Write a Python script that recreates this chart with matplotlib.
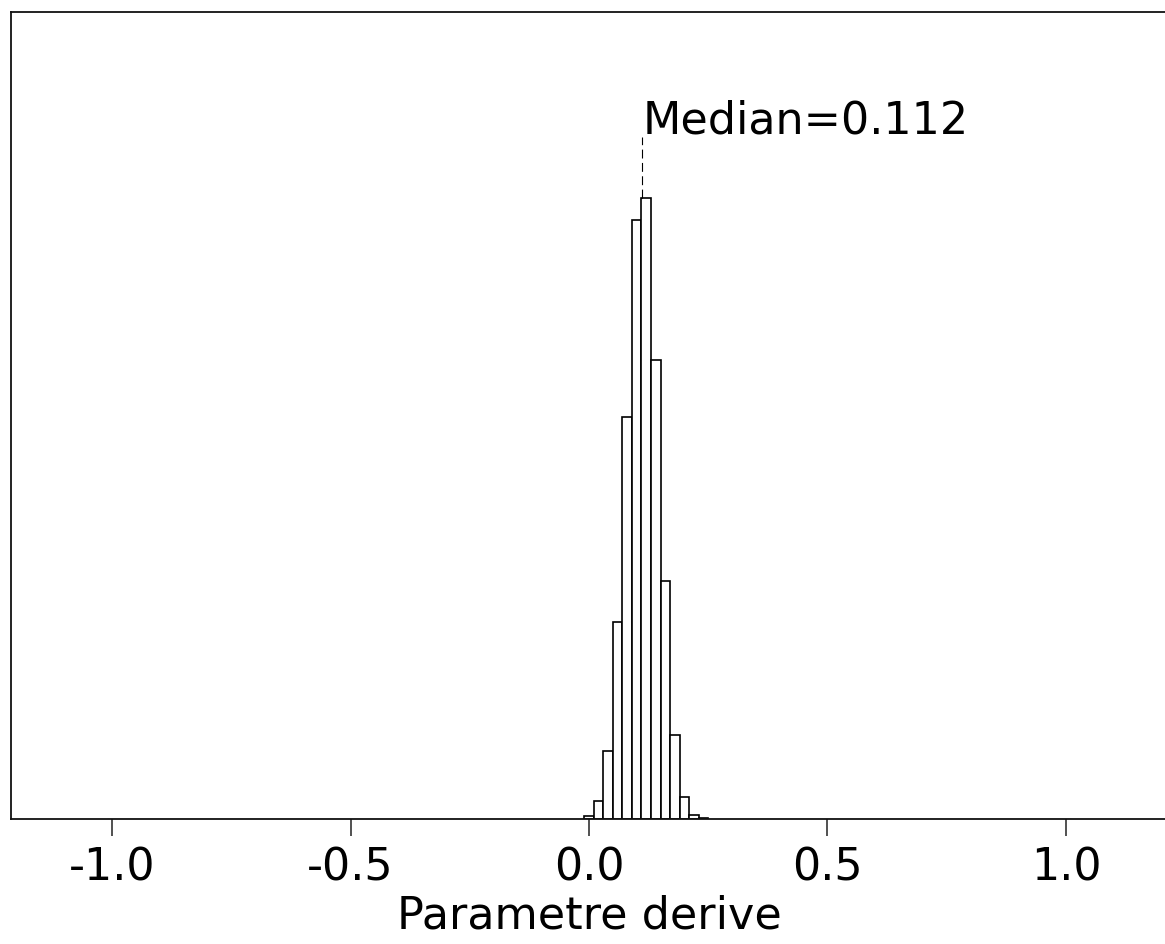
import numpy as np
import matplotlib
matplotlib.use("Agg")
import matplotlib.pyplot as plt

plt.rcParams['font.family'] = ['DejaVu Sans']
plt.rcParams['axes.unicode_minus'] = False

# histogram of the derived parameter, bin width 0.02
bin_width = 0.02
bin_left = [-0.01, 0.01, 0.03, 0.05, 0.07, 0.09, 0.11, 0.13, 0.15, 0.17, 0.19, 0.21, 0.23]
counts = [10, 65, 249, 725, 1480, 2205, 2288, 1691, 876, 311, 82, 16, 2]
median = 0.112

# empty bins span the full range -1.01 .. 1.01
range_lo, range_hi = -1.01, 1.01

xticks = [-1.0, -0.5, 0.0, 0.5, 1.0]
xtick_labels = ['-1.0', '-0.5', '0.0', '0.5', '1.0']

fig = plt.figure(figsize=(11.65, 9.45), dpi=100)
ax = fig.add_axes([10.5 / 1165, 1 - 820 / 945, 1157 / 1165, (820 - 12.5) / 945])

# baseline of empty bins
empty_edges = np.arange(range_lo, range_hi + 1e-9, bin_width)
ax.bar(empty_edges[:-1], np.zeros(len(empty_edges) - 1), width=bin_width, align='edge',
       facecolor='white', edgecolor='black', linewidth=0.8)
ax.bar(bin_left, counts, width=bin_width, align='edge',
       facecolor='white', edgecolor='black', linewidth=1.2)

top = max(counts) * 1.3
ax.set_xlim(-1.2128, 1.2128)
ax.set_ylim(0, top)

# median marker
ax.plot([median, median], [max(counts), top * 0.845], linestyle=(0, (8, 4)),
        color='black', linewidth=0.8)
ax.text(median, top * 0.85, 'Median=0.112', ha='left', va='baseline', fontsize=32)

ax.set_yticks([])
ax.set_xticks(xticks)
ax.set_xticklabels(xtick_labels)
ax.tick_params(axis='x', direction='out', length=12, width=1.2, pad=7, labelsize=32,
               color='#333333')
ax.set_xlabel('Parametre derive', fontsize=32, labelpad=4)

ax.spines['right'].set_visible(False)
for side in ['top', 'bottom', 'left']:
    ax.spines[side].set_linewidth(1.3)
    ax.spines[side].set_color('#111111')

fig.savefig('out.png', dpi=100)
